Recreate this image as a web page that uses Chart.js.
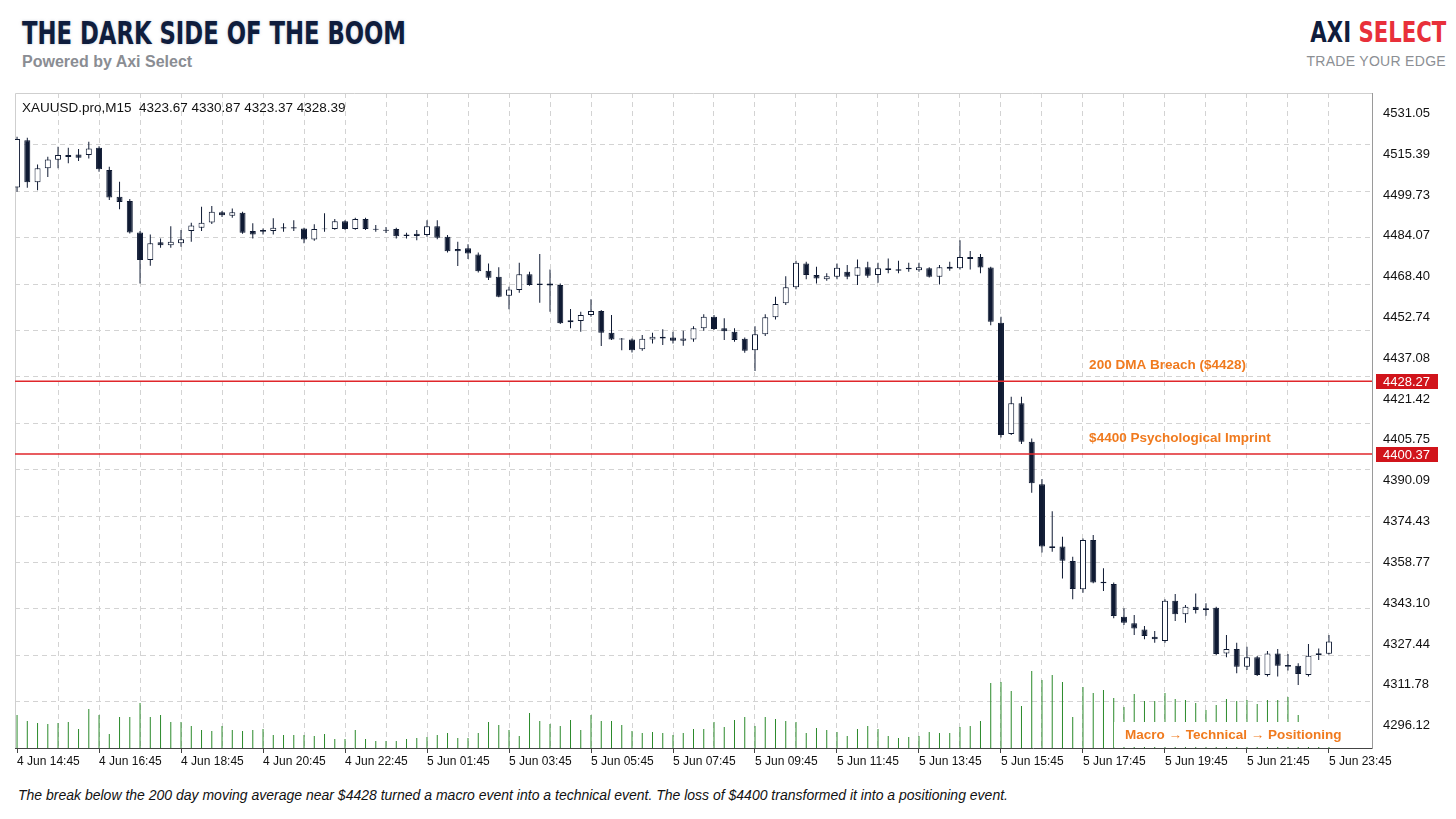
<!DOCTYPE html>
<html>
<head>
<meta charset="utf-8">
<script src="https://cdn.jsdelivr.net/npm/chart.js@4.4.1/dist/chart.umd.min.js"></script>
<style>
  html, body { margin: 0; padding: 0; background: #fff; }
  body { width: 1456px; height: 819px; position: relative; overflow: hidden; font-family: "Liberation Sans", Arial, sans-serif; }
  #title { position: absolute; left: 22px; top: 14px; font: bold 32px "DejaVu Sans Condensed", "DejaVu Sans", sans-serif; color: #0f1d3d; white-space: nowrap; text-shadow: 0 0 3px rgba(140,150,175,.55); transform-origin: 0 0; }
  #sub { position: absolute; left: 22px; top: 53px; font: bold 16px "Liberation Sans", Arial, sans-serif; color: #8a8d93; white-space: nowrap; }
  #logo { position: absolute; right: 10px; top: 16px; font: bold 28px "DejaVu Sans Condensed", "DejaVu Sans", sans-serif; color: #0f1d3d; white-space: nowrap; transform-origin: 100% 0; }
  #logo span { color: #e8303a; }
  #tag { position: absolute; right: 10px; top: 53px; font: 14px "Liberation Sans", Arial, sans-serif; color: #8c8f94; white-space: nowrap; letter-spacing: 0.3px; }
  #wrap { position: absolute; left: 0; top: 88px; width: 1456px; height: 688px; }
  #sym { position: absolute; left: 22px; top: 100px; font: 13.5px "Liberation Sans", Arial, sans-serif; color: #111; white-space: pre; }
  #note { position: absolute; left: 18px; top: 787px; font: italic 14px "Liberation Sans", Arial, sans-serif; color: #111; white-space: nowrap; }
</style>
</head>
<body>
<div id="title">THE DARK SIDE OF THE BOOM</div>
<div id="sub">Powered by Axi Select</div>
<div id="logo">AXI <span>SELECT</span></div>
<div id="tag">TRADE YOUR EDGE</div>
<div id="wrap"><canvas id="c"></canvas></div>
<div id="sym"></div>
<div id="note">The break below the 200 day moving average near $4428 turned a macro event into a technical event. The loss of $4400 transformed it into a positioning event.</div>
<script>
// ===== XAUUSD M15, 4 Jun 14:45 -> 5 Jun 23:45 =====
const symbol = 'XAUUSD.pro,M15';

const open = [
  4502.6, 4520.8, 4504.6, 4510.0, 4513.3, 4515.1, 4515.3, 4515.1, 4517.9, 4509.3,
  4499.1, 4497.4, 4485.4, 4474.8, 4481.6, 4480.5, 4481.2, 4485.9, 4487.2, 4489.2,
  4493.1, 4491.8, 4492.9, 4485.9, 4486.3, 4485.9, 4486.9, 4487.4, 4486.9, 4482.7,
  4486.6, 4486.7, 4489.7, 4486.7, 4490.5, 4486.8, 4486.4, 4486.7, 4484.6, 4484.9,
  4484.4, 4487.8, 4483.7, 4479.0, 4479.3, 4476.9, 4470.7, 4468.4, 4461.1, 4463.3,
  4469.3, 4465.8, 4465.8, 4465.2, 4451.7, 4451.4, 4453.7, 4455.2, 4446.9, 4444.7,
  4444.3, 4440.5, 4444.3, 4445.3, 4445.1, 4443.8, 4444.3, 4448.6, 4453.0, 4448.6,
  4447.3, 4444.6, 4440.2, 4446.3, 4452.8, 4458.2, 4464.3, 4473.5, 4469.0, 4467.4,
  4468.4, 4470.3, 4468.8, 4472.0, 4469.0, 4471.6, 4471.3, 4471.3, 4470.9, 4471.6,
  4468.4, 4472.2, 4471.6, 4476.0, 4476.0, 4471.9, 4450.7, 4408.0, 4419.8, 4405.0,
  4388.7, 4364.9, 4364.8, 4359.3, 4348.4, 4367.3, 4351.3, 4350.4, 4337.9, 4335.4,
  4333.0, 4330.2, 4328.6, 4344.0, 4338.8, 4341.7, 4341.1, 4341.3, 4323.8, 4325.5,
  4318.7, 4322.3, 4315.5, 4323.8, 4319.4, 4319.1, 4315.5, 4323.2, 4323.67
];
const high = [
  4522.1, 4521.7, 4511.5, 4514.4, 4518.3, 4517.9, 4517.4, 4520.2, 4518.5, 4510.6,
  4504.8, 4498.2, 4485.9, 4484.6, 4483.1, 4487.8, 4486.3, 4489.1, 4495.2, 4495.5,
  4493.6, 4494.6, 4493.3, 4488.9, 4486.9, 4490.8, 4488.9, 4490.1, 4487.2, 4488.5,
  4492.7, 4490.5, 4490.1, 4491.0, 4491.0, 4488.2, 4487.5, 4487.2, 4485.3, 4486.3,
  4490.1, 4490.1, 4484.4, 4481.8, 4480.8, 4477.7, 4473.5, 4472.0, 4464.5, 4473.7,
  4470.3, 4477.1, 4471.2, 4465.8, 4456.0, 4454.9, 4459.7, 4455.6, 4453.7, 4444.9,
  4444.7, 4446.0, 4446.9, 4448.2, 4447.3, 4447.6, 4449.4, 4454.0, 4453.7, 4452.4,
  4448.6, 4445.1, 4449.4, 4454.0, 4460.7, 4468.6, 4474.5, 4474.1, 4472.2, 4469.7,
  4473.5, 4472.9, 4475.0, 4474.1, 4473.7, 4475.4, 4474.5, 4473.7, 4473.7, 4472.0,
  4472.9, 4474.1, 4482.4, 4478.3, 4477.1, 4472.2, 4453.0, 4422.3, 4422.3, 4406.3,
  4390.7, 4378.4, 4368.6, 4360.9, 4367.9, 4369.3, 4356.5, 4351.0, 4341.1, 4338.5,
  4334.3, 4332.4, 4344.6, 4346.6, 4342.4, 4346.8, 4343.1, 4341.7, 4330.9, 4327.9,
  4326.4, 4322.8, 4324.7, 4325.5, 4323.6, 4320.0, 4327.4, 4325.7, 4330.87
];
const low = [
  4501.0, 4502.5, 4501.6, 4506.7, 4510.0, 4511.9, 4512.8, 4513.8, 4508.7, 4497.8,
  4494.3, 4485.0, 4465.8, 4472.6, 4479.5, 4479.5, 4479.9, 4481.8, 4485.9, 4488.6,
  4491.3, 4491.0, 4484.9, 4483.1, 4484.6, 4484.6, 4485.6, 4485.9, 4481.2, 4482.2,
  4485.6, 4486.4, 4486.4, 4486.4, 4486.3, 4485.6, 4485.2, 4483.1, 4483.1, 4482.4,
  4483.7, 4482.8, 4477.7, 4472.5, 4475.2, 4470.0, 4467.1, 4460.5, 4455.9, 4462.2,
  4464.9, 4458.4, 4454.9, 4450.2, 4448.6, 4447.3, 4453.0, 4441.8, 4444.1, 4440.2,
  4439.3, 4440.0, 4442.8, 4442.2, 4442.8, 4441.9, 4443.4, 4447.6, 4447.9, 4444.1,
  4443.4, 4439.2, 4432.2, 4445.6, 4452.0, 4457.5, 4463.6, 4467.4, 4465.8, 4466.8,
  4467.4, 4467.4, 4465.2, 4468.0, 4466.1, 4469.7, 4469.7, 4470.3, 4470.3, 4468.1,
  4465.4, 4470.7, 4471.2, 4471.2, 4469.7, 4449.8, 4406.7, 4407.6, 4404.2, 4385.5,
  4362.5, 4362.8, 4352.6, 4344.6, 4347.1, 4350.7, 4347.8, 4337.3, 4334.7, 4330.9,
  4329.2, 4327.9, 4327.9, 4336.2, 4335.6, 4339.1, 4338.3, 4323.2, 4322.3, 4316.2,
  4317.4, 4315.1, 4314.9, 4314.9, 4317.2, 4311.7, 4314.9, 4321.3, 4323.37
];
const close = [
  4521.2, 4504.6, 4510.0, 4513.4, 4515.1, 4514.3, 4514.0, 4517.6, 4509.6, 4498.8,
  4497.1, 4485.4, 4474.8, 4481.2, 4480.5, 4481.8, 4482.8, 4488.0, 4489.1, 4493.3,
  4492.0, 4493.1, 4485.3, 4484.6, 4485.6, 4487.2, 4487.4, 4486.9, 4482.7, 4486.7,
  4486.9, 4489.7, 4486.7, 4490.5, 4486.7, 4486.4, 4486.0, 4483.9, 4484.0, 4484.0,
  4487.8, 4483.3, 4478.2, 4478.2, 4477.3, 4470.5, 4468.0, 4460.7, 4463.5, 4469.3,
  4465.2, 4465.2, 4465.0, 4450.5, 4450.9, 4453.7, 4455.2, 4446.9, 4444.3, 4444.3,
  4440.2, 4444.6, 4445.3, 4444.7, 4443.8, 4444.7, 4448.6, 4453.0, 4448.3, 4447.5,
  4444.1, 4440.0, 4446.3, 4452.8, 4457.9, 4464.3, 4473.7, 4469.0, 4467.7, 4468.6,
  4471.8, 4468.4, 4472.0, 4468.8, 4471.6, 4471.0, 4470.7, 4471.8, 4472.0, 4468.4,
  4472.0, 4471.4, 4476.0, 4475.2, 4471.9, 4451.1, 4407.6, 4419.8, 4405.0, 4389.1,
  4364.8, 4364.3, 4359.4, 4348.5, 4367.3, 4351.0, 4350.7, 4338.2, 4335.6, 4333.4,
  4330.5, 4329.2, 4344.0, 4338.8, 4341.7, 4340.5, 4340.5, 4323.6, 4325.5, 4318.7,
  4322.3, 4315.5, 4323.8, 4319.1, 4318.7, 4315.9, 4322.9, 4323.9, 4328.39
];
// tick volume
const volume = [
  33, 27, 25, 24, 25, 26, 19, 39, 33, 14,
  31, 31, 45, 31, 33, 26, 26, 22, 18, 17,
  22, 18, 17, 18, 19, 13, 13, 13, 13, 12,
  14, 9, 9, 18, 9, 7, 7, 7, 9, 10,
  11, 13, 15, 10, 10, 15, 26, 23, 18, 12,
  35, 27, 24, 22, 28, 18, 33, 27, 27, 23,
  17, 15, 16, 15, 13, 15, 19, 19, 26, 21,
  28, 31, 22, 31, 29, 27, 26, 15, 20, 18,
  16, 12, 19, 22, 19, 12, 10, 11, 12, 16,
  15, 15, 21, 22, 27, 65, 66, 57, 42, 77,
  68, 73, 66, 31, 61, 55, 58, 50, 41, 54,
  47, 47, 55, 49, 48, 45, 38, 43, 49, 47,
  48, 44, 48, 48, 51, 33, 18, 14, 8
];

// one label every 8 bars
const timeLabels = ['4 Jun 14:45', '4 Jun 16:45', '4 Jun 18:45', '4 Jun 20:45', '4 Jun 22:45',
  '5 Jun 01:45', '5 Jun 03:45', '5 Jun 05:45', '5 Jun 07:45', '5 Jun 09:45', '5 Jun 11:45',
  '5 Jun 13:45', '5 Jun 15:45', '5 Jun 17:45', '5 Jun 19:45', '5 Jun 21:45', '5 Jun 23:45'];
const priceTicks = [4531.05, 4515.39, 4499.73, 4484.07, 4468.40, 4452.74, 4437.08, 4421.42,
  4405.75, 4390.09, 4374.43, 4358.77, 4343.10, 4327.44, 4311.78, 4296.12];

const levels = [4428.27, 4400.37];
const levelNotes = ['200 DMA Breach ($4428)', '$4400 Psychological Imprint'];
const flowNote = 'Macro \u2192 Technical \u2192 Positioning';

const navy = '#0f1a33';
const orange = '#f07a1e';
const red = '#e0262b';
const gridColor = '#d3d3d3';
const X_MIN = -0.2, X_MAX = 132.2;
const N = open.length;
const last = N - 1;

document.getElementById('sym').textContent =
  `${symbol}  ${open[last].toFixed(2)} ${high[last].toFixed(2)} ${low[last].toFixed(2)} ${close[last].toFixed(2)}`;

// squeeze the heading fonts to the width of the original lettering
function fitWidth(id, w) {
  const el = document.getElementById(id);
  el.style.transform = `scaleX(${w / el.getBoundingClientRect().width})`;
}
fitWidth('title', 384);
fitWidth('logo', 136);

const idx = open.map((_, i) => i);

const decor = {
  id: 'decor',
  beforeDatasetsDraw(chart) {
    const { ctx, chartArea: a } = chart;
    ctx.save();
    ctx.strokeStyle = '#cfcfcf';
    ctx.lineWidth = 1;
    ctx.beginPath();
    ctx.moveTo(a.left + 0.5, a.bottom);
    ctx.lineTo(a.left + 0.5, a.top + 0.5);
    ctx.lineTo(a.right, a.top + 0.5);
    ctx.stroke();
    ctx.restore();
  },
  afterDatasetsDraw(chart) {
    const { ctx, chartArea: a, scales: { x, y } } = chart;
    ctx.save();
    ctx.textBaseline = 'middle';
    ctx.textAlign = 'left';
    levels.forEach((lv, i) => {
      const py = Math.round(y.getPixelForValue(lv));
      ctx.fillStyle = '#d1141b';
      ctx.fillRect(a.right + 4, py - 7, 62, 15);
      ctx.fillStyle = '#fff';
      ctx.font = '13px "Liberation Sans", Arial, sans-serif';
      ctx.fillText(lv.toFixed(2), a.right + 11, py + 1);
      ctx.fillStyle = orange;
      ctx.font = 'bold 13.5px "Liberation Sans", Arial, sans-serif';
      ctx.fillText(levelNotes[i], x.getPixelForValue(104.6), py - 16);
    });
    // bottom caption sits on a white patch over the volume bars
    ctx.font = 'bold 13.5px "Liberation Sans", Arial, sans-serif';
    const tx = x.getPixelForValue(108.1);
    const w = ctx.measureText(flowNote).width;
    ctx.fillStyle = '#fff';
    ctx.fillRect(tx - 11, a.bottom - 26, w + 16, 25);
    ctx.fillStyle = orange;
    ctx.fillText(flowNote, tx, a.bottom - 13);
    ctx.restore();
  }
};

const noPad = s => { s.paddingTop = 0; s.paddingBottom = 0; s.paddingLeft = 0; s.paddingRight = 0; };

new Chart(document.getElementById('c'), {
  type: 'bar',
  data: {
    datasets: [
      { type: 'line', data: [{ x: X_MIN, y: levels[0] }, { x: X_MAX, y: levels[0] }], borderColor: red, borderWidth: 1.5, pointRadius: 0, yAxisID: 'y', order: 0 },
      { type: 'line', data: [{ x: X_MIN, y: levels[1] }, { x: X_MAX, y: levels[1] }], borderColor: red, borderWidth: 1.5, pointRadius: 0, yAxisID: 'y', order: 0 },
      { data: idx.map(i => ({ x: i, y: [open[i], close[i]] })), yAxisID: 'y', order: 1, grouped: false,
        barThickness: 6, borderWidth: 1, borderColor: navy, borderSkipped: false, inflateAmount: 0,
        backgroundColor: c => close[c.dataIndex] >= open[c.dataIndex] ? '#ffffff' : navy },
      { data: idx.map(i => ({ x: i, y: [low[i], high[i]] })), yAxisID: 'y', order: 2, grouped: false,
        barThickness: 1, backgroundColor: navy, borderWidth: 0, inflateAmount: 0 },
      { data: idx.map(i => ({ x: i, y: volume[i] })), yAxisID: 'yv', order: 3, grouped: false,
        barThickness: 1, backgroundColor: '#2b8a2b', borderWidth: 0, inflateAmount: 0 }
    ]
  },
  options: {
    responsive: true, maintainAspectRatio: false, animation: false,
    layout: { padding: { left: 15, top: 5, right: 0, bottom: 0 } },
    plugins: { legend: { display: false }, tooltip: { enabled: false } },
    scales: {
      x: {
        type: 'linear', min: X_MIN, max: X_MAX, offset: false,
        afterBuildTicks: s => { s.ticks = []; for (let v = 0; v <= 128; v += 4) s.ticks.push({ value: v }); },
        afterFit: s => { s.height = 28; noPad(s); },
        grid: { offset: false, color: c => c.tick && c.tick.value === 0 ? 'rgba(0,0,0,0)' : gridColor,
          tickColor: c => c.tick && c.tick.value % 8 === 0 ? '#444' : 'rgba(0,0,0,0)', tickLength: 5 },
        border: { display: true, color: '#444', dash: [5, 4] },
        ticks: { autoSkip: false, maxRotation: 0, minRotation: 0, align: 'start', padding: 1,
          color: '#111', font: { family: '"Liberation Sans", Arial, sans-serif', size: 12 },
          callback: v => v % 8 === 0 ? timeLabels[v / 8] : '' }
      },
      y: {
        position: 'right', min: 4287.5, max: 4538.9, beginAtZero: false,
        afterBuildTicks: s => { s.ticks = priceTicks.map(v => ({ value: v })); },
        afterFit: s => { s.width = 84; noPad(s); },
        grid: { display: false, drawTicks: false },
        border: { display: true, color: '#9a9a9a' },
        ticks: { padding: 11, color: '#111', font: { family: '"Liberation Sans", Arial, sans-serif', size: 13 },
          callback: v => v.toFixed(2) }
      },
      yGrid: {
        position: 'left', min: 0, max: 14.12, beginAtZero: true,
        afterBuildTicks: s => { s.ticks = []; for (let k = 1; k <= 13; k++) s.ticks.push({ value: k }); },
        afterFit: s => { s.width = 0; noPad(s); },
        grid: { color: gridColor, drawTicks: false },
        border: { display: false, dash: [5, 4] },
        ticks: { display: false }
      },
      yv: { display: false, min: 0, max: 655 }
    }
  },
  plugins: [decor]
});
</script>
</body>
</html>
